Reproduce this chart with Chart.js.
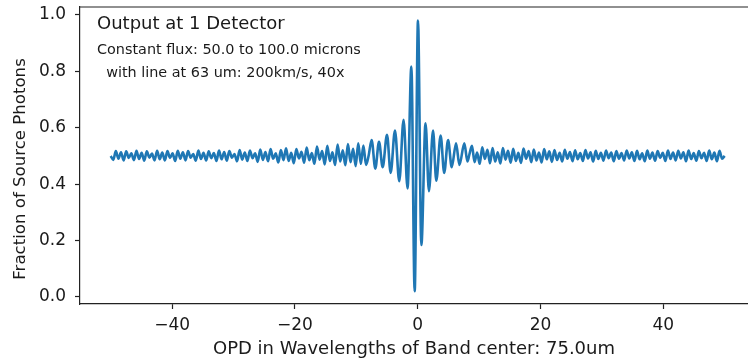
<!DOCTYPE html>
<html>
<head>
<meta charset="utf-8">
<script src="https://cdn.jsdelivr.net/npm/chart.js@4.4.1/dist/chart.umd.min.js"></script>
<style>
  html, body { margin: 0; padding: 0; background: #fff; }
  #wrap { width: 748px; height: 360px; position: relative; }
</style>
</head>
<body>
<div id="wrap"><canvas id="chart"></canvas></div>
<script>
// interferogram wings are sampled on a regular OPD grid (half a fringe apart)
const wingStep = 0.42;
const leftWingStart = -50;
const rightWingStart = 8.42;

// OPD -50 .. -8.42
const leftWing = [
  0.500, 0.486, 0.517, 0.490, 0.513, 0.484, 0.516, 0.493, 0.509, 0.485,
  0.518, 0.489, 0.511, 0.483, 0.516, 0.494, 0.508, 0.484, 0.518, 0.488,
  0.512, 0.484, 0.517, 0.493, 0.509, 0.482, 0.518, 0.490, 0.513, 0.484,
  0.517, 0.494, 0.507, 0.483, 0.519, 0.489, 0.511, 0.484, 0.516, 0.492,
  0.510, 0.482, 0.519, 0.488, 0.514, 0.483, 0.517, 0.494, 0.507, 0.481,
  0.521, 0.487, 0.512, 0.482, 0.519, 0.492, 0.509, 0.479, 0.523, 0.486,
  0.514, 0.481, 0.524, 0.490, 0.509, 0.477, 0.521, 0.485, 0.527, 0.482,
  0.511, 0.474, 0.524, 0.491, 0.515, 0.476, 0.530, 0.485, 0.510, 0.472,
  0.533, 0.487, 0.517, 0.470, 0.536, 0.482, 0.513, 0.468, 0.540, 0.480,
  0.520, 0.467, 0.542, 0.478, 0.525, 0.464, 0.545, 0.472, 0.537, 0.468
];

// central fringes around zero path difference
const centerOpd = [
  -8.0, -7.5, -6.9, -6.3, -5.7, -5.0, -4.4, -3.7, -3.0, -2.3, -1.65, -1.03, -0.49,
  0.05, 0.6, 1.28, 1.83, 2.5, 3.03, 3.74, 4.32, 4.95, 5.55, 6.25, 6.8, 7.6, 8.1
];
const centerFrac = [
  0.500, 0.556, 0.455, 0.550, 0.460, 0.575, 0.440, 0.590, 0.410, 0.628, 0.385, 0.817, 0.020,
  0.980, 0.184, 0.616, 0.375, 0.590, 0.412, 0.572, 0.440, 0.556, 0.460, 0.545, 0.468, 0.545, 0.480
];

// OPD 8.42 .. 50
const rightWing = [
  0.505, 0.536, 0.478, 0.512, 0.472, 0.531, 0.489, 0.522, 0.474, 0.528,
  0.480, 0.513, 0.473, 0.528, 0.487, 0.518, 0.476, 0.525, 0.482, 0.511,
  0.475, 0.526, 0.490, 0.517, 0.478, 0.523, 0.484, 0.512, 0.477, 0.524,
  0.488, 0.516, 0.479, 0.521, 0.486, 0.511, 0.480, 0.522, 0.490, 0.514,
  0.481, 0.520, 0.488, 0.510, 0.482, 0.521, 0.491, 0.513, 0.480, 0.518,
  0.489, 0.511, 0.483, 0.519, 0.492, 0.512, 0.481, 0.517, 0.490, 0.510,
  0.484, 0.519, 0.491, 0.513, 0.482, 0.518, 0.488, 0.509, 0.481, 0.519,
  0.490, 0.512, 0.483, 0.517, 0.493, 0.511, 0.482, 0.519, 0.489, 0.512,
  0.484, 0.518, 0.491, 0.513, 0.481, 0.519, 0.489, 0.510, 0.483, 0.517,
  0.492, 0.511, 0.482, 0.519, 0.488, 0.512, 0.481, 0.518, 0.490, 0.500
];

const xTicks = [-40, -20, 0, 20, 40];
const yTicks = [0.0, 0.2, 0.4, 0.6, 0.8, 1.0];

const titleText = 'Output at 1 Detector';
const noteLines = ['Constant flux: 50.0 to 100.0 microns', '  with line at 63 um: 200km/s, 40x'];
const yTitle = 'Fraction of Source Photons';

let points = [];
leftWing.forEach((v, i) => points.push({ x: leftWingStart + i * wingStep, y: v }));
centerOpd.forEach((x, i) => points.push({ x: x, y: centerFrac[i] }));
rightWing.forEach((v, i) => points.push({ x: rightWingStart + i * wingStep, y: v }));

const FONT = '"DejaVu Sans", sans-serif';
const INK = '#1a1a1a';

// top edge of the frame, y label and the text block in the upper left
const framePlugin = {
  id: 'frame',
  afterDraw(chart) {
    const ctx = chart.ctx;
    const a = chart.chartArea;
    ctx.save();
    ctx.strokeStyle = '#222';
    ctx.lineWidth = 1.2;
    ctx.beginPath();
    ctx.moveTo(a.left, a.top);
    ctx.lineTo(a.right, a.top);
    ctx.stroke();

    ctx.fillStyle = INK;
    ctx.textBaseline = 'alphabetic';
    ctx.font = '18px ' + FONT;
    ctx.fillText(titleText, 97, 29);
    ctx.font = '14.4px ' + FONT;
    ctx.fillText(noteLines[0], 97, 54);
    ctx.fillText(noteLines[1], 97, 77);

    ctx.translate(21, 169);
    ctx.rotate(-Math.PI / 2);
    ctx.textAlign = 'center';
    ctx.textBaseline = 'middle';
    ctx.font = '16.6px ' + FONT;
    ctx.fillText(yTitle, 0, 0);
    ctx.restore();
  }
};

new Chart(document.getElementById('chart').getContext('2d'), {
  type: 'line',
  data: {
    datasets: [{
      data: points,
      borderColor: '#1f77b4',
      borderWidth: 2.6,
      borderJoinStyle: 'round',
      pointRadius: 0,
      cubicInterpolationMode: 'monotone',
      fill: false
    }]
  },
  options: {
    responsive: true,
    maintainAspectRatio: false,
    animation: false,
    devicePixelRatio: 1,
    layout: { autoPadding: false, padding: { top: 7, right: 0, left: 0, bottom: 0 } },
    plugins: { legend: { display: false }, tooltip: { enabled: false } },
    scales: {
      x: {
        type: 'linear',
        min: -55,
        max: 53.8,
        afterBuildTicks: s => { s.ticks = xTicks.map(v => ({ value: v })); },
        afterFit: s => { s.height = 56; s.paddingLeft = 0; s.paddingRight = 0; },
        ticks: {
          callback: v => String(v).replace('-', '\u2212'),
          font: { family: FONT, size: 17 },
          color: INK,
          padding: 6,
          maxRotation: 0
        },
        grid: { drawOnChartArea: false, drawTicks: true, tickLength: 5, tickColor: '#222', tickWidth: 1.2 },
        border: { display: true, color: '#222', width: 1.2 },
        title: {
          display: true,
          text: 'OPD in Wavelengths of Band center: 75.0um',
          font: { family: FONT, size: 18 },
          color: INK,
          padding: { top: 0, bottom: 0 }
        }
      },
      y: {
        type: 'linear',
        min: -0.025,
        max: 1.028,
        afterBuildTicks: s => { s.ticks = yTicks.map(v => ({ value: v })); },
        afterFit: s => { s.width = 80; s.paddingTop = 0; s.paddingBottom = 0; },
        ticks: {
          callback: v => v.toFixed(1),
          font: { family: FONT, size: 17 },
          color: INK,
          padding: 9
        },
        grid: { drawOnChartArea: false, drawTicks: true, tickLength: 5, tickColor: '#222', tickWidth: 1.2 },
        border: { display: true, color: '#222', width: 1.2 }
      }
    }
  },
  plugins: [framePlugin]
});
</script>
</body>
</html>
